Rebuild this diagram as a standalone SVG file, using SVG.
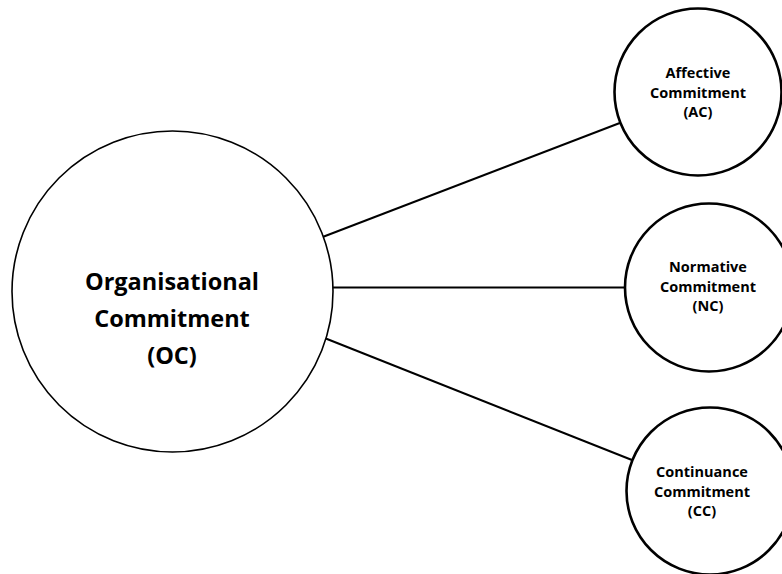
<svg xmlns="http://www.w3.org/2000/svg" width="782" height="574" viewBox="0 0 782 574">
<style>
.big{fill:#fff;stroke:#000;stroke-width:1.6}
.small{fill:#fff;stroke:#000;stroke-width:2.6}
.conn{stroke:#000;stroke-width:2;fill:none}
text{font-family:"Open Sans","Liberation Sans",sans-serif;font-weight:bold;fill:#000;text-anchor:middle}
.bt{font-size:23.5px}
.st{font-size:14.5px}
</style>
<rect width="782" height="574" fill="#fff"/>
<g id="connectors">
<line class="conn" x1="320" y1="238" x2="625" y2="121"/>
<line class="conn" x1="330" y1="287.5" x2="630" y2="287.5"/>
<line class="conn" x1="322" y1="337" x2="637" y2="462"/>
</g>
<g id="oc">
<circle class="big" cx="172.5" cy="291.5" r="160.5"/>
<text class="bt" x="172" y="290">Organisational</text>
<text class="bt" x="172" y="327">Commitment</text>
<text class="bt" x="172" y="364">(OC)</text>
</g>
<g id="ac">
<circle class="small" cx="698" cy="92" r="83.5"/>
<text class="st" x="698" y="78">Affective</text>
<text class="st" x="698" y="97.5">Commitment</text>
<text class="st" x="698" y="117">(AC)</text>
</g>
<g id="nc">
<circle class="small" cx="709" cy="287.5" r="84"/>
<text class="st" x="708" y="272">Normative</text>
<text class="st" x="708" y="291.5">Commitment</text>
<text class="st" x="708" y="311">(NC)</text>
</g>
<g id="cc">
<circle class="small" cx="710" cy="491" r="83.5"/>
<text class="st" x="702" y="477">Continuance</text>
<text class="st" x="702" y="496.5">Commitment</text>
<text class="st" x="702" y="516">(CC)</text>
</g>
</svg>
